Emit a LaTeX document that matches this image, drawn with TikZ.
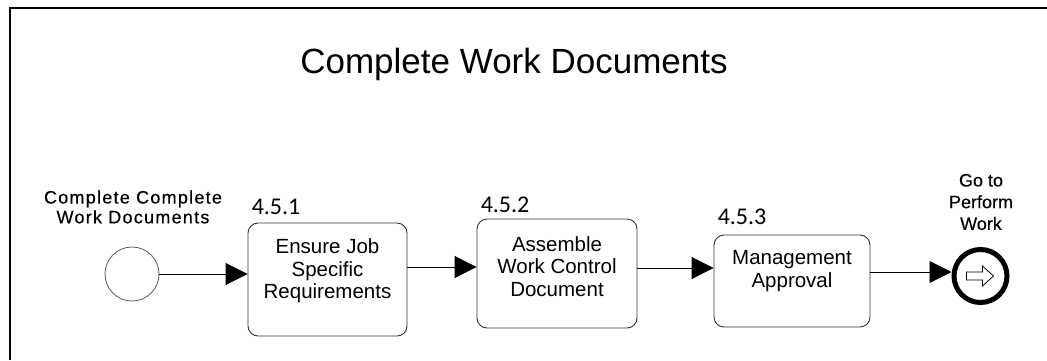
\documentclass[tikz,border=0pt]{standalone}
\usepackage{fontspec}
\setmainfont{Liberation Sans}
\newfontfamily\numfont{Carlito}
\newfontfamily\startfont[LetterSpace=7, FakeBold=0.3]{Liberation Sans}
\newfontfamily\endfont[FakeBold=0.3]{Liberation Sans}
\usetikzlibrary{arrows.meta}

\tikzset{
    task/.style={draw=black!80, rounded corners=10pt, line width=0.9pt, inner sep=0pt},
    tasktext/.style={align=center, inner sep=0pt, font=\fontsize{20.5}{22.5}\selectfont},
    tasknum/.style={anchor=base west, inner sep=0pt, font=\numfont\fontsize{24}{28}\selectfont},
    flow/.style={line width=0.9pt, -{Triangle[length=22pt,width=22pt]}},
}

\begin{document}
\begin{tikzpicture}[x=1pt, y=-1pt]
        \useasboundingbox (0,0) rectangle (1047,360);
        % Frame round the process
        \draw[line width=2.2pt] (10,360) -- (10,7.7) -- (1047,7.7);

        % Title
        \node (title) at (514,73.5) [anchor=base, font=\fontsize{35}{40}\selectfont] {Complete Work Documents};

        % Start event
        \node (st) at (132,274) [circle, draw=black!65, line width=0.8pt, minimum size=54pt, inner sep=0pt] {};
        \node (stlbl) at (133,207) [align=center, inner sep=0pt, font=\startfont\fontsize{18}{19.8}\selectfont] {Complete Complete\\Work Documents};

        % Tasks
        \node (b1) at (327.5,279.5) [task, minimum width=159pt, minimum height=113pt] {};
        \node (t1) at ([yshift=8.5pt]b1.center) [tasktext] {Ensure Job\\Specific\\Requirements};
        \node (n1) at ([shift={(4,-8)}]b1.north west) [tasknum] {4.5.1};

        \node (b2) at (557,273.5) [task, minimum width=160pt, minimum height=109pt] {};
        \node (t2) at ([yshift=7pt]b2.center) [tasktext] {Assemble\\Work Control\\Document};
        \node (n2) at ([shift={(4,-6)}]b2.north west) [tasknum] {4.5.2};

        \node (b3) at (792,281) [task, minimum width=156pt, minimum height=92pt] {};
        \node (t3) at ([yshift=10pt]b3.center) [tasktext] {Management\\Approval};
        \node (n3) at ([shift={(4,-10)}]b3.north west) [tasknum] {4.5.3};

        % End event (link to next process)
        \node (ge) at (980.5,276) [circle, draw, line width=5pt, minimum size=53pt, inner sep=0pt] {};
        \draw[line width=0.8pt, fill=white, shift={(ge.center)}]
            (-14,-4) -- (2,-4) -- (2,-10) -- (13,0) -- (2,10) -- (2,4) -- (-14,4) -- cycle;
        \node (gelbl) at (981,202) [align=center, inner sep=0pt, font=\endfont\fontsize{18}{21.7}\selectfont] {Go to\\Perform\\Work};

        % Sequence flow
        \draw[flow] (st.east) -- (st.east -| b1.west);
        \draw[flow] ([yshift=6.5pt]b2.west -| b1.east) -- ([yshift=6.5pt]b2.west);
        \draw[flow] ([yshift=5.5pt]b2.east) -- ([yshift=5.5pt]b2.east -| b3.west);
        \draw[flow] ([yshift=4pt]ge.west -| b3.east) -- ([yshift=4pt]ge.west);
\end{tikzpicture}
\end{document}
